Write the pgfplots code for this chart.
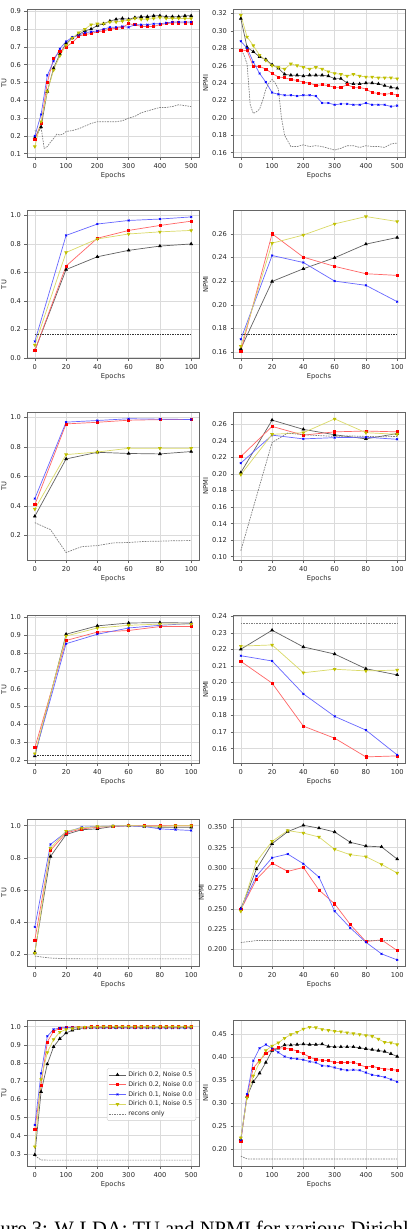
\documentclass[border=0pt]{standalone}
\usepackage{fontspec}
\setmainfont{DejaVu Sans}
\newfontfamily\capfont{Liberation Serif}
\usepackage{pgfplots}
\usepackage{pgfplotstable}
\pgfplotsset{compat=1.18}
\definecolor{myyel}{rgb}{0.75,0.75,0}
\pgfplotsset{
 myax/.style={scale only axis, width=172pt, height=148pt, anchor=north west,
  grid=major, grid style={draw=black!14, line width=0.6pt},
  axis line style={draw=black!60, line width=0.6pt},
  tick style={draw=black!60, line width=0.5pt}, major tick length=2.5pt, tick align=outside,
  xtick pos=bottom, ytick pos=left,
  ticklabel style={font=\fontsize{6.7}{7}\selectfont, text=black!85},
  label style={font=\fontsize{6.7}{7}\selectfont, text=black!85},
  xlabel={Epochs}, /pgf/number format/assume math mode=true,
  scaled y ticks=false, scaled x ticks=false,
  xlabel style={yshift=3pt}, ylabel style={yshift=-3pt}},
 ax500/.style={xmin=-25, xmax=525, xtick={0,100,...,500}},
 ax100/.style={xmin=-5, xmax=105, xtick={0,20,...,100}},
 prec/.style={yticklabel style={/pgf/number format/.cd, fixed, fixed zerofill, precision=#1}},
 sK/.style={color=black!62, line width=0.7pt, mark=triangle*, mark size=1.5pt, mark options={fill=black, draw=black}},
 sR/.style={color=red!60, line width=0.7pt, mark=square*, mark size=1.05pt, mark options={fill=red, draw=red}},
 sB/.style={color=blue!60, line width=0.7pt, mark=x, mark size=1.3pt, mark options={draw=blue}},
 sY/.style={color=myyel!60, line width=0.7pt, mark=triangle*, mark size=1.5pt, mark options={fill=myyel, draw=myyel, rotate=180}},
 sD/.style={color=black!50, line width=0.7pt, dash pattern=on 1.6pt off 1pt, no marks},
}
\pgfplotstableread{
x K R B Y
0 0.19 0.18 0.20 0.14
20 0.25 0.27 0.32 0.28
40 0.45 0.50 0.54 0.45
60 0.58 0.635 0.62 0.57
80 0.66 0.675 0.69 0.65
100 0.72 0.70 0.73 0.71
120 0.75 0.725 0.755 0.75
140 0.77 0.76 0.765 0.78
160 0.79 0.77 0.78 0.80
180 0.80 0.775 0.785 0.825
200 0.82 0.785 0.79 0.83
220 0.83 0.79 0.80 0.83
240 0.845 0.80 0.81 0.84
260 0.855 0.805 0.81 0.84
280 0.86 0.81 0.815 0.845
300 0.855 0.83 0.81 0.85
320 0.865 0.825 0.825 0.86
340 0.87 0.815 0.825 0.855
360 0.87 0.815 0.825 0.855
380 0.875 0.815 0.83 0.86
400 0.875 0.825 0.83 0.865
420 0.87 0.83 0.835 0.86
440 0.87 0.835 0.84 0.86
460 0.87 0.835 0.84 0.86
480 0.875 0.835 0.84 0.86
500 0.875 0.835 0.84 0.86
}\tA
\pgfplotstableread{
x K R B Y
0 0.314 0.278 0.288 0.318
20 0.281 0.277 0.280 0.293
40 0.276 0.259 0.264 0.283
60 0.270 0.259 0.251 0.272
80 0.267 0.256 0.241 0.266
100 0.261 0.251 0.229 0.260
120 0.257 0.247 0.227 0.258
140 0.250 0.246 0.226 0.256
160 0.249 0.244 0.226 0.262
180 0.249 0.243 0.225 0.260
200 0.248 0.241 0.226 0.258
220 0.249 0.240 0.226 0.256
240 0.249 0.237 0.225 0.258
260 0.249 0.238 0.217 0.256
280 0.248 0.237 0.217 0.253
300 0.245 0.235 0.215 0.251
320 0.245 0.235 0.216 0.250
340 0.240 0.238 0.216 0.248
360 0.239 0.235 0.215 0.250
380 0.239 0.235 0.215 0.248
400 0.240 0.233 0.217 0.247
420 0.240 0.229 0.215 0.247
440 0.239 0.228 0.215 0.246
460 0.237 0.227 0.215 0.246
480 0.235 0.228 0.213 0.246
500 0.234 0.226 0.214 0.245
}\tB
\pgfplotstableread{
x K R B Y
0 0.05 0.05 0.115 0.09
20 0.62 0.645 0.86 0.74
40 0.71 0.84 0.94 0.835
60 0.755 0.895 0.965 0.87
80 0.785 0.93 0.975 0.885
100 0.80 0.96 0.99 0.895
}\tC
\pgfplotstableread{
x K R B Y
0 0.163 0.161 0.171 0.165
20 0.2198 0.260 0.2417 0.2521
40 0.2305 0.2403 0.2358 0.259
60 0.2398 0.2325 0.2201 0.2684
80 0.2513 0.2263 0.2165 0.2746
100 0.2569 0.2249 0.2027 0.2704
}\tD
\pgfplotstableread{
x K R B Y
0 0.33 0.408 0.45 0.379
20 0.718 0.955 0.967 0.7475
40 0.763 0.966 0.978 0.765
60 0.755 0.98 0.99 0.79
80 0.752 0.984 0.987 0.79
100 0.768 0.985 0.985 0.79
}\tE
\pgfplotstableread{
x K R B Y
0 0.2017 0.2211 0.2132 0.1993
20 0.2652 0.2576 0.247 0.248
40 0.254 0.247 0.2425 0.250
60 0.2475 0.251 0.244 0.2667
80 0.2425 0.252 0.2445 0.250
100 0.249 0.251 0.242 0.248
}\tF
\pgfplotstableread{
x K R B Y
0 0.222 0.2687 0.23 0.235
20 0.905 0.870 0.852 0.895
40 0.952 0.917 0.905 0.94
60 0.968 0.926 0.94 0.955
80 0.97 0.948 0.955 0.962
100 0.968 0.948 0.965 0.962
}\tG
\pgfplotstableread{
x K R B Y
0 0.2201 0.2128 0.2162 0.222
20 0.2316 0.1996 0.213 0.2227
40 0.2215 0.1736 0.1931 0.2059
60 0.2172 0.1663 0.1795 0.208
80 0.2083 0.155 0.1712 0.207
100 0.2046 0.1556 0.1562 0.2075
}\tH
\pgfplotstableread{
x K R B Y
0 0.21 0.287 0.369 0.205
10 0.808 0.845 0.883 0.86
20 0.945 0.955 0.96 0.965
30 0.975 0.98 0.99 0.985
40 0.98 0.99 0.995 0.995
50 0.995 0.995 0.998 0.998
60 1.0 1.0 0.998 1.0
70 0.995 1.0 0.995 0.998
80 0.99 1.0 0.98 0.995
90 0.99 1.0 0.975 1.0
100 0.99 1.0 0.97 1.0
}\tI
\pgfplotstableread{
x K R B Y
0 0.250 0.249 0.250 0.247
10 0.2988 0.2861 0.2902 0.3078
20 0.3299 0.3061 0.3127 0.3328
30 0.3447 0.2959 0.3172 0.346
40 0.3525 0.3008 0.3053 0.343
50 0.349 0.273 0.2889 0.3381
60 0.3443 0.2561 0.2471 0.323
70 0.3316 0.2307 0.2266 0.3164
80 0.327 0.2098 0.209 0.314
90 0.326 0.2119 0.1947 0.3045
100 0.311 0.1988 0.1873 0.2939
}\tJ
\pgfplotstableread{
x K R B Y
0 0.295 0.435 0.459 0.34
20 0.642 0.679 0.743 0.71
40 0.794 0.916 0.947 0.858
60 0.889 0.975 0.985 0.93
80 0.934 0.99 0.993 0.97
100 0.965 0.995 0.995 0.985
120 0.98 0.997 0.995 0.99
140 0.99 0.998 0.994 0.995
160 0.993 0.998 0.994 0.997
180 0.994 0.999 0.993 0.998
200 0.995 0.999 0.993 0.998
220 0.995 0.999 0.993 0.999
240 0.995 0.999 0.993 0.999
260 0.995 0.999 0.992 0.999
280 0.996 0.999 0.993 0.999
300 0.996 0.999 0.993 0.999
320 0.996 0.999 0.992 0.999
340 0.996 0.999 0.992 0.999
360 0.996 0.999 0.992 0.999
380 0.996 0.999 0.992 0.999
400 0.996 0.999 0.992 0.999
420 0.996 0.999 0.992 0.999
440 0.996 0.999 0.992 0.999
460 0.996 0.999 0.992 0.999
480 0.996 0.999 0.992 0.999
500 0.996 0.999 0.992 0.999
}\tK
\pgfplotstableread{
x K R B Y
0 0.222 0.218 0.220 0.225
20 0.315 0.318 0.320 0.312
40 0.347 0.377 0.3928 0.36
60 0.3656 0.3935 0.42 0.39
80 0.389 0.408 0.428 0.415
100 0.415 0.418 0.420 0.425
120 0.420 0.421 0.411 0.432
140 0.427 0.420 0.402 0.442
160 0.427 0.418 0.398 0.450
180 0.428 0.414 0.397 0.455
200 0.429 0.408 0.395 0.462
220 0.428 0.401 0.391 0.466
240 0.428 0.395 0.389 0.465
260 0.429 0.394 0.382 0.461
280 0.424 0.393 0.381 0.459
300 0.423 0.389 0.378 0.457
320 0.423 0.389 0.374 0.456
340 0.423 0.389 0.372 0.454
360 0.423 0.390 0.373 0.452
380 0.421 0.384 0.372 0.450
400 0.419 0.379 0.367 0.448
420 0.417 0.381 0.362 0.446
440 0.415 0.377 0.360 0.440
460 0.413 0.375 0.357 0.433
480 0.408 0.374 0.352 0.432
500 0.402 0.372 0.347 0.428
}\tL
\newcommand\four[1]{%
 \addplot[sK] table[x=x,y=K]{#1};
 \addplot[sR] table[x=x,y=R]{#1};
 \addplot[sB] table[x=x,y=B]{#1};
 \addplot[sY] table[x=x,y=Y]{#1};}
\begin{document}
\begin{tikzpicture}
\useasboundingbox (0pt,0pt) rectangle (409pt,-1229pt);
% Row 1
\begin{axis}[myax, ax500, at={(27pt,-9pt)}, ymin=0.0815, ymax=0.913, ytick={0.1,0.2,...,0.9}, prec=1, ylabel={TU}]
\four{\tA}
\addplot[sD] coordinates {(0,0.23)(10,0.22)(20,0.25)(30,0.13)(40,0.14)(50,0.165)(60,0.185)(70,0.21)(80,0.205)(90,0.21)(100,0.225)(120,0.23)(140,0.24)(160,0.255)(180,0.27)(200,0.28)(220,0.28)(240,0.28)(260,0.28)(280,0.285)(300,0.30)(320,0.31)(340,0.33)(360,0.34)(380,0.35)(400,0.36)(420,0.36)(440,0.365)(460,0.375)(480,0.37)(500,0.365)};
\end{axis}
\begin{axis}[myax, ax500, at={(233pt,-9pt)}, ymin=0.155, ymax=0.325, ytick={0.16,0.18,...,0.33}, prec=2, ylabel={NPMI}]
\four{\tB}
\addplot[sD] coordinates {(0,0.280)(10,0.272)(20,0.262)(30,0.215)(40,0.205)(50,0.207)(60,0.210)(70,0.220)(80,0.233)(90,0.240)(100,0.244)(110,0.240)(120,0.233)(130,0.200)(140,0.180)(160,0.167)(180,0.167)(200,0.169)(220,0.167)(240,0.168)(260,0.167)(280,0.165)(300,0.163)(320,0.165)(340,0.168)(360,0.168)(380,0.166)(400,0.168)(420,0.167)(440,0.167)(460,0.166)(480,0.170)(500,0.171)};
\end{axis}
% Row 2
\begin{axis}[myax, ax100, at={(27pt,-210.5pt)}, ymin=-0.005, ymax=1.035, ytick={0,0.2,...,1.0}, prec=1, ylabel={TU}]
\four{\tC}
\addplot[sD, color=black!80, dash pattern=on 1.5pt off 1pt] coordinates {(0,0.168)(100,0.168)};
\end{axis}
\begin{axis}[myax, ax100, at={(233pt,-210.5pt)}, ymin=0.1547, ymax=0.2797, ytick={0.16,0.18,...,0.27}, prec=2, ylabel={NPMI}]
\four{\tD}
\addplot[sD, color=black!80, dash pattern=on 1.5pt off 1pt] coordinates {(0,0.1755)(100,0.1755)};
\end{axis}
% Row 3
\begin{axis}[myax, ax100, at={(27pt,-412pt)}, ymin=0.0345, ymax=1.0355, ytick={0.2,0.4,...,1.0}, prec=1, ylabel={TU}]
\four{\tE}
\addplot[sD] coordinates {(0,0.287)(10,0.24)(20,0.085)(30,0.125)(40,0.132)(50,0.15)(60,0.153)(70,0.16)(80,0.162)(90,0.165)(100,0.166)};
\end{axis}
\begin{axis}[myax, ax100, at={(233pt,-412pt)}, ymin=0.096, ymax=0.275, ytick={0.10,0.12,...,0.27}, prec=2, ylabel={NPMI}]
\four{\tF}
\addplot[sD] coordinates {(0,0.1072)(20,0.2382)(30,0.2495)(40,0.2475)(50,0.2465)(60,0.2455)(70,0.246)(80,0.2455)(90,0.245)(100,0.2455)};
\end{axis}
% Row 4
\begin{axis}[myax, ax100, at={(27pt,-615.5pt)}, ymin=0.18, ymax=1.01, ytick={0.2,0.3,...,1.0}, prec=1, ylabel={TU}]
\four{\tG}
\addplot[sD, color=black!80, dash pattern=on 1.5pt off 1pt] coordinates {(0,0.224)(100,0.224)};
\end{axis}
\begin{axis}[myax, ax100, at={(233pt,-615.5pt)}, ymin=0.151, ymax=0.2405, ytick={0.16,0.17,...,0.245}, prec=2, ylabel={NPMI}]
\four{\tH}
\addplot[sD] coordinates {(0,0.2357)(100,0.2357)};
\end{axis}
% Row 5
\begin{axis}[myax, ax100, at={(27pt,-819pt)}, height=147pt, ymin=0.1255, ymax=1.0415, ytick={0.2,0.4,...,1.0}, prec=1, ylabel={TU}]
\four{\tI}
\addplot[sD] coordinates {(0,0.187)(10,0.175)(20,0.171)(30,0.17)(40,0.17)(50,0.17)(60,0.17)(70,0.17)(80,0.17)(90,0.17)(100,0.17)};
\end{axis}
\begin{axis}[myax, ax100, at={(233pt,-819pt)}, height=147pt, ymin=0.1798, ymax=0.3602, ytick={0.2,0.225,...,0.36}, prec=3, ylabel={NPMI}]
\four{\tJ}
\addplot[sD] coordinates {(0,0.2086)(10,0.211)(20,0.2112)(30,0.2112)(40,0.2112)(50,0.2112)(60,0.2112)(70,0.2112)(80,0.2112)(90,0.2112)(100,0.2112)};
\end{axis}
% Row 6
\begin{axis}[myax, ax500, at={(27pt,-1020pt)}, height=146pt, ymin=0.2335, ymax=1.0365, ytick={0.3,0.4,...,1.0}, prec=1, ylabel={TU},
  legend cell align=left,
  legend style={at={(0.9826,0.671)}, anchor=north east, draw=black!20, rounded corners=1.5pt, fill=white, fill opacity=0.85, text opacity=1,
   font=\fontsize{6.3}{7}\selectfont, text=black!85, inner sep=1.5pt, row sep=-0.5pt}]
\addplot[sK] table[x=x,y=K]{\tK}; \addlegendentry{Dirich 0.2, Noise 0.5}
\addplot[sR] table[x=x,y=R]{\tK}; \addlegendentry{Dirich 0.2, Noise 0.0}
\addplot[sB] table[x=x,y=B]{\tK}; \addlegendentry{Dirich 0.1, Noise 0.0}
\addplot[sY] table[x=x,y=Y]{\tK}; \addlegendentry{Dirich 0.1, Noise 0.5}
\addplot[sD] coordinates {(0,0.29)(20,0.267)(40,0.266)(100,0.266)(200,0.266)(300,0.266)(400,0.266)(500,0.266)}; \addlegendentry{recons only}
\end{axis}
\begin{axis}[myax, ax500, at={(233pt,-1020pt)}, height=146pt, ymin=0.1635, ymax=0.4815, ytick={0.20,0.25,...,0.46}, prec=2, ylabel={NPMI}]
\four{\tL}
\addplot[sD] coordinates {(0,0.185)(20,0.179)(40,0.179)(100,0.179)(200,0.179)(300,0.179)(400,0.179)(500,0.179)};
\end{axis}
\node[anchor=base west, inner sep=0pt, font=\capfont\fontsize{20.5}{20.5}\selectfont] at (-27pt,-1235pt) {Figure 3: W-LDA: TU and NPMI for various Dirichlet priors};
\end{tikzpicture}
\end{document}
